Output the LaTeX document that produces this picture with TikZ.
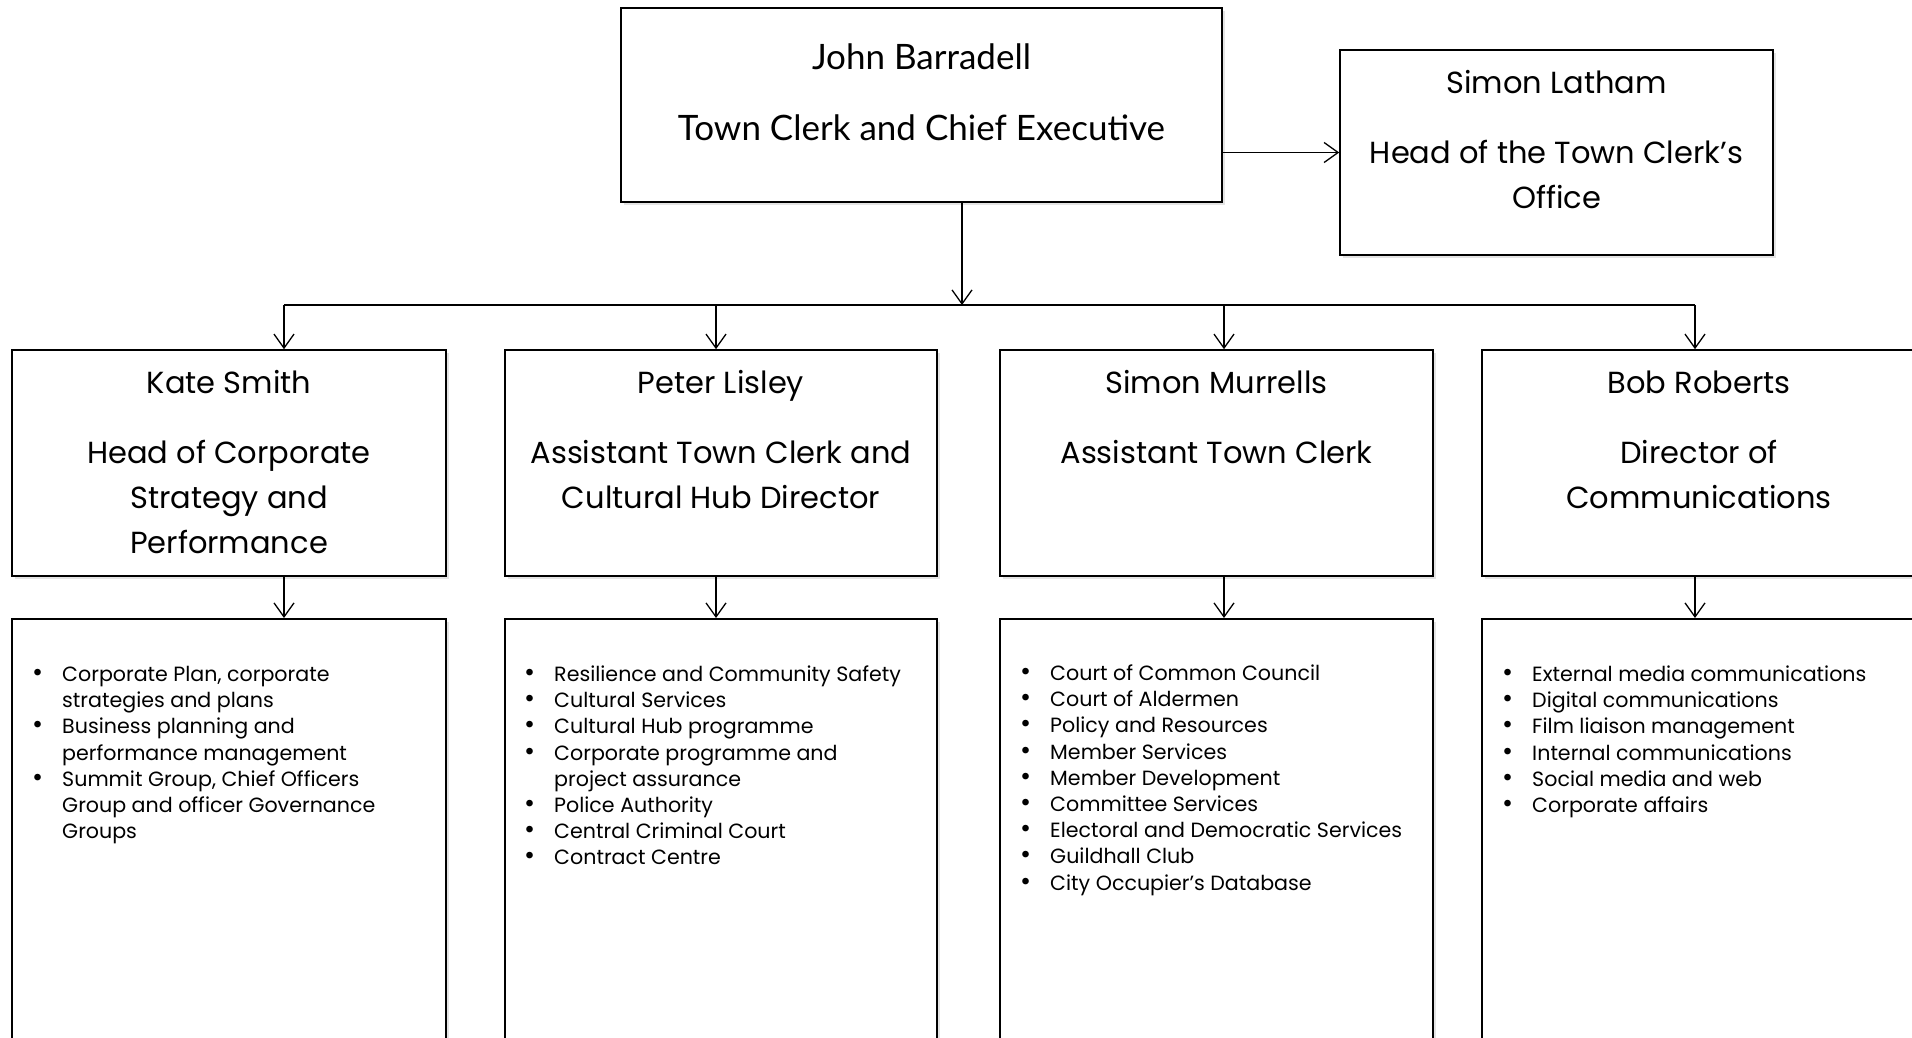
\documentclass[tikz,border=0pt]{standalone}
\usepackage{fontspec}
\setmainfont{Poppins}
\newfontfamily\narrowfont{Lato}
\usetikzlibrary{arrows.meta,shadows}

\newcommand{\blt}{\scalebox{1.3}{\textbullet}}

\begin{document}
\begin{tikzpicture}[x=1pt,y=-1pt,
  post/.style={draw,line width=1.6pt,fill=white,
    drop shadow={fill=black!30,opacity=0.35,shadow xshift=3pt,shadow yshift=-3pt}},
  title/.style={align=center,inner sep=0pt,anchor=north,font=\fontsize{30.5}{45}\selectfont},
  duty/.style={inner sep=0pt,anchor=north west,font=\fontsize{20.6}{26.2}\selectfont},
  link/.style={line width=1.3pt,-{Straight Barb[length=14pt,width=20pt,line width=1.3pt]}}]
\clip (0,0) rectangle (1912,1037);
\fill[white] (0,0) rectangle (1912,1037);

% top
\node[post,minimum width=601pt,minimum height=194pt] (clerk) at (921.5,105) {};
\node[align=center,inner sep=0pt,font=\narrowfont\fontsize{35}{71}\selectfont] (clerktext) at (921.5,92)
  {John Barradell\\Town Clerk and Chief Executive};
\node[post,minimum width=433pt,minimum height=205pt] (office) at (1556.5,152.5) {};
\node[title] (officetext) at (1556.5,70) {Simon Latham\\[25pt]Head of the Town Clerk's\\Office};
\draw[link] (clerk.east |- office) -- (office.west);

% second row
\node[post,minimum width=434pt,minimum height=226pt] (ks) at (229,463) {};
\node[post,minimum width=432pt,minimum height=226pt] (pl) at (721,463) {};
\node[post,minimum width=433pt,minimum height=226pt] (sm) at (1216.5,463) {};
\node[post,minimum width=434pt,minimum height=226pt] (br) at (1699,463) {};
\node[title] (kstext) at (229,370) {Kate Smith\\[25pt]Head of Corporate\\Strategy and\\Performance};
\node[title] (pltext) at (721,370) {Peter Lisley\\[25pt]Assistant Town Clerk and\\Cultural Hub Director};
\node[title] (smtext) at (1216.5,370) {Simon Murrells\\[25pt]Assistant Town Clerk};
\node[title] (brtext) at (1699,371) {Bob Roberts\\[25pt]Director of\\Communications};

\coordinate (bus) at (962,305);
\coordinate (d1) at (284,305);
\coordinate (d2) at (716,305);
\coordinate (d3) at (1224,305);
\coordinate (d4) at (1695,305);
\draw[link] (clerk.south -| bus) -- (bus);
\draw[line width=1.3pt] (d1) -- (d4);
\draw[link] (d1) -- (d1 |- ks.north);
\draw[link] (d2) -- (d2 |- pl.north);
\draw[link] (d3) -- (d3 |- sm.north);
\draw[link] (d4) -- (d4 |- br.north);

% duties
\node[post,minimum width=434pt,minimum height=480pt,anchor=north] (ksduty) at (229,618) {};
\node[post,minimum width=432pt,minimum height=480pt,anchor=north] (plduty) at (721,618) {};
\node[post,minimum width=433pt,minimum height=480pt,anchor=north] (smduty) at (1216.5,618) {};
\node[post,minimum width=434pt,minimum height=480pt,anchor=north] (brduty) at (1699,618) {};
\draw[link] (d1 |- ks.south) -- (d1 |- ksduty.north);
\draw[link] (d2 |- pl.south) -- (d2 |- plduty.north);
\draw[link] (d3 |- sm.south) -- (d3 |- smduty.north);
\draw[link] (d4 |- br.south) -- (d4 |- brduty.north);

\node[duty] (kslist) at (32,663) {\begin{tabular}{@{}l@{\hspace{19pt}}l@{}}
\blt & Corporate Plan, corporate\\
 & strategies and plans\\
\blt & Business planning and\\
 & performance management\\
\blt & Summit Group, Chief Officers\\
 & Group and officer Governance\\
 & Groups
\end{tabular}};
\node[duty] (pllist) at (524,663) {\begin{tabular}{@{}l@{\hspace{19pt}}l@{}}
\blt & Resilience and Community Safety\\
\blt & Cultural Services\\
\blt & Cultural Hub programme\\
\blt & Corporate programme and\\
 & project assurance\\
\blt & Police Authority\\
\blt & Central Criminal Court\\
\blt & Contract Centre
\end{tabular}};
\node[duty] (smlist) at (1020,662) {\begin{tabular}{@{}l@{\hspace{19pt}}l@{}}
\blt & Court of Common Council\\
\blt & Court of Aldermen\\
\blt & Policy and Resources\\
\blt & Member Services\\
\blt & Member Development\\
\blt & Committee Services\\
\blt & Electoral and Democratic Services\\
\blt & Guildhall Club\\
\blt & City Occupier's Database
\end{tabular}};
\node[duty] (brlist) at (1502,663) {\begin{tabular}{@{}l@{\hspace{19pt}}l@{}}
\blt & External media communications\\
\blt & Digital communications\\
\blt & Film liaison management\\
\blt & Internal communications\\
\blt & Social media and web\\
\blt & Corporate affairs
\end{tabular}};
\end{tikzpicture}
\end{document}
